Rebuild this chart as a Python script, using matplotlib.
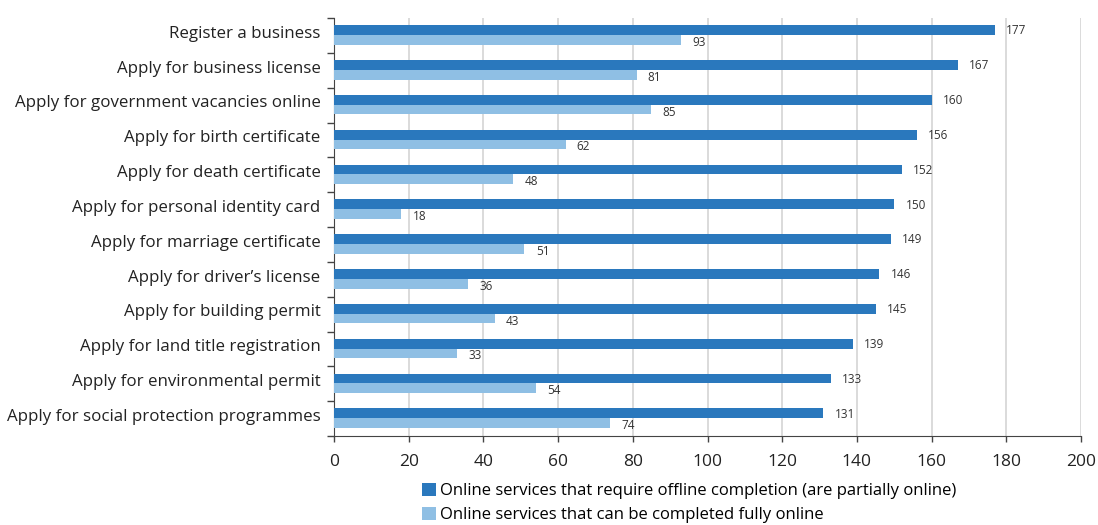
import matplotlib
matplotlib.use("Agg")
import matplotlib.pyplot as plt
import numpy as np
from matplotlib.patches import Patch

categories = [
    "Register a business",
    "Apply for business license",
    "Apply for government vacancies online",
    "Apply for birth certificate",
    "Apply for death certificate",
    "Apply for personal identity card",
    "Apply for marriage certificate",
    "Apply for driver\u2019s license",
    "Apply for building permit",
    "Apply for land title registration",
    "Apply for environmental permit",
    "Apply for social protection programmes",
]
partially_online = [177, 167, 160, 156, 152, 150, 149, 146, 145, 139, 133, 131]
fully_online = [93, 81, 85, 62, 48, 18, 51, 36, 43, 33, 54, 74]
x_ticks = [0, 20, 40, 60, 80, 100, 120, 140, 160, 180, 200]
legend_labels = [
    "Online services that require offline completion (are partially online)",
    "Online services that can be completed fully online",
]

dark = "#2a78bd"
light = "#8fbfe4"
font = "Open Sans"
plt.rcParams["font.family"] = [font, "DejaVu Sans"]

fig = plt.figure(figsize=(10.98, 5.25), dpi=100)
ax = fig.add_axes([334 / 1098, 1 - 436 / 525, (1081 - 334) / 1098, (436 - 18) / 525])

y = np.arange(len(categories))
h = 0.28
ax.barh(y - 0.15, partially_online, height=h, color=dark, zorder=3)
ax.barh(y + 0.13, fully_online, height=h, color=light, zorder=3)

for yi, v in zip(y, partially_online):
    ax.text(v + 3, yi - 0.13, str(v), va="center", ha="left", fontsize=8.5, color="#333333")
for yi, v in zip(y, fully_online):
    ax.text(v + 3, yi + 0.2, str(v), va="center", ha="left", fontsize=8.5, color="#333333")

ax.set_xlim(0, 200)
ax.set_ylim(len(categories) - 0.5, -0.5)
ax.set_xticks(x_ticks)
ax.set_xticklabels([str(t) for t in x_ticks], fontsize=12.5, color="#222222")
ax.tick_params(axis="x", length=4, width=1, color="#444444", pad=9)

# category labels at bar centres, ticks at group boundaries
ax.set_yticks(np.arange(len(categories) + 1) - 0.5)
ax.set_yticklabels([])
ax.tick_params(axis="y", length=5, width=1, color="#444444")
for yi, c in zip(y, categories):
    ax.text(-0.018, yi - 0.05, c, transform=ax.get_yaxis_transform(), ha="right",
            va="center", fontsize=12.2, color="#222222")

ax.grid(axis="x", color="#d4d4d4", linewidth=1.2, zorder=0)
for s in ["top", "right"]:
    ax.spines[s].set_visible(False)
ax.spines["left"].set_color("#444444")
ax.spines["bottom"].set_color("#444444")

handles = [Patch(facecolor=dark, edgecolor="none"), Patch(facecolor=light, edgecolor="none")]
fig.legend(handles, legend_labels, loc="upper left", bbox_to_anchor=(422 / 1098, 1 - 483 / 525),
           frameon=False, fontsize=12, handlelength=0.85, handleheight=0.85,
           handletextpad=0.2, labelspacing=0.45, borderaxespad=0, borderpad=0)

fig.savefig("out.png", dpi=100)
